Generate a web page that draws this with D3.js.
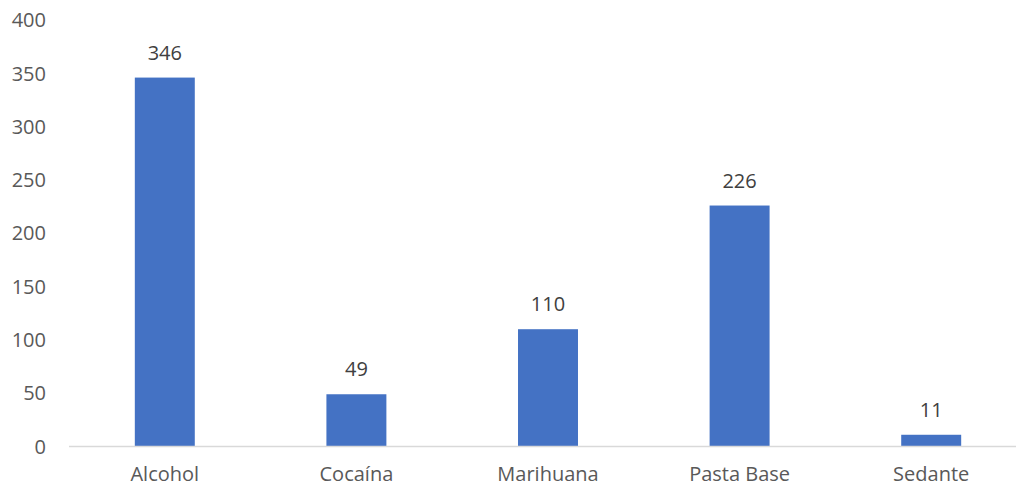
<!DOCTYPE html>
<html><head><meta charset="utf-8">
<script src="https://cdn.jsdelivr.net/npm/d3@7"></script>
<style>body{margin:0;background:#fff}svg{display:block}</style>
</head><body>
<svg id="c" width="1016" height="486"></svg>
<script>
const categories = ["Alcohol","Cocaína","Marihuana","Pasta Base","Sedante"];
const values = [346,49,110,226,11];
const yTicks = [0,50,100,150,200,250,300,350,400];

const svg = d3.select("#c");
const font = "'Open Sans', sans-serif";
const fs = 20;
const x = d3.scaleBand().domain(categories).range([69,1027]).paddingInner(0.687).paddingOuter(0.3435);
const y = d3.scaleLinear().domain([0,400]).range([446.5,20]);

// y tick labels
svg.append("g").selectAll("text").data(yTicks).join("text")
  .attr("x",46).attr("y",d=>y(d)).attr("dy","0.36em")
  .attr("text-anchor","end").attr("font-family",font).attr("font-size",fs)
  .attr("fill","#595959").text(d=>d);

// bars
svg.append("g").selectAll("rect").data(values).join("rect")
  .attr("x",(d,i)=>x(categories[i])).attr("width",x.bandwidth())
  .attr("y",d=>y(d)).attr("height",d=>y(0)-y(d)).attr("fill","#4472C4");

// baseline
svg.append("line").attr("x1",69).attr("x2",1016).attr("y1",y(0)).attr("y2",y(0))
  .attr("stroke","#d9d9d9").attr("stroke-width",1.5);

// data labels
svg.append("g").selectAll("text").data(values).join("text")
  .attr("x",(d,i)=>x(categories[i])+x.bandwidth()/2).attr("y",d=>y(d)-25).attr("dy","0.36em")
  .attr("text-anchor","middle").attr("font-family",font).attr("font-size",fs)
  .attr("fill","#404040").text(d=>d);

// category labels
svg.append("g").selectAll("text").data(categories).join("text")
  .attr("x",d=>x(d)+x.bandwidth()/2).attr("y",481)
  .attr("text-anchor","middle").attr("font-family",font).attr("font-size",fs)
  .attr("fill","#595959").text(d=>d);
</script>
</body></html>
